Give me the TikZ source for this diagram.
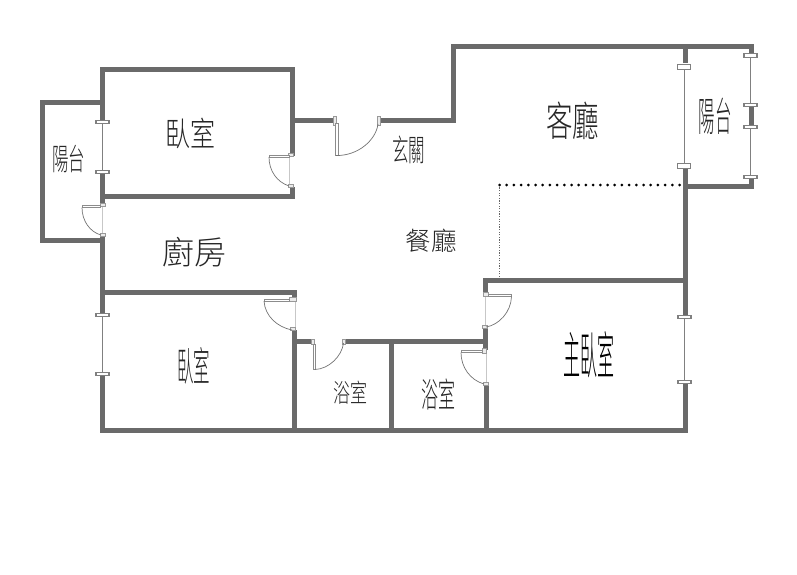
\documentclass[tikz,border=0pt]{standalone}
\usepackage{fontspec}
\setmainfont{Noto Sans CJK TC Light}
\definecolor{wallgray}{HTML}{6A6A6A}
\definecolor{thingray}{HTML}{808080}
\tikzset{
  wall/.style={draw=wallgray,line width=5pt,line cap=rect,line join=miter},
  pane/.style={draw=thingray,line width=1.2pt},
  lightpane/.style={draw=black!22,line width=1pt},
  jambbig/.style={draw=thingray,fill=white,line width=1.2pt},
  jambsmall/.style={draw=black!40,fill=black!8,line width=.8pt},
  leaf/.style={draw=black!45,fill=white,line width=.7pt},
  swing/.style={draw=black!55,line width=.7pt},
  roomline/.style={draw=black,line width=3pt,line cap=round,dash pattern=on 0pt off 7.2pt},
  roomlinefine/.style={draw=black!60,line width=1.4pt,dash pattern=on 1.3pt off 1.3pt},
  label/.style={inner sep=0pt,text=black!85}
}
\begin{document}
\begin{tikzpicture}[x=1pt,y=-1pt]
  \useasboundingbox (0,0) rectangle (797,575);
  \begin{scope}[wall]
    \draw (102,118) -- (102,70) -- (292,70) -- (292,153);
    \draw (102,176) -- (102,203);
    \draw (102,237) -- (102,312);
    \draw (102,378) -- (102,430) -- (685,430);
    \draw (100,103) -- (42,103) -- (42,240) -- (100,240);
    \draw (102,196) -- (292,196) -- (292,189);
    \draw (292,121) -- (331,121);
    \draw (382,121) -- (453,121) -- (453,47) -- (751,47) -- (751,51);
    \draw (685,47) -- (685,61);
    \draw (685,170) -- (685,314);
    \draw (685,386) -- (685,430);
    \draw (685,186) -- (751,186) -- (751,181);
    \draw (751,108) -- (751,124);
    \draw (102,292) -- (294,292) -- (294,295);
    \draw (294,332) -- (294,430);
    \draw (294,341) -- (309,341);
    \draw (347,341) -- (485,341);
    \draw (391,341) -- (391,430);
    \draw (485,290) -- (485,280) -- (685,280);
    \draw (485,331) -- (485,347);
    \draw (486,388) -- (486,430);
  \end{scope}
  % windows
  \draw[pane] (102.5,122) -- (102.5,172);
  \draw[pane] (102.5,315) -- (102.5,374);
  \draw[pane] (684.5,67) -- (684.5,166);
  \draw[pane] (684.5,317) -- (684.5,382);
  \draw[pane] (750.5,56) -- (750.5,105);
  \draw[pane] (750.5,127) -- (750.5,177);
  \foreach \px/\py in {102.5/122,102.5/172,102.5/315,102.5/374,684.5/317,684.5/382}
    \draw[jambbig] (\px-6.5,\py-1.8) rectangle (\px+6.5,\py+1.8);
  \foreach \py in {67,166}
    \draw[jambbig] (677.5,\py-2.7) rectangle (690.5,\py+2.7);
  \foreach \py in {55.5,105,127,177}
    \draw[jambbig] (744,\py-1.7) rectangle (757,\py+1.7);
  % doors
  \draw[lightpane] (289.5,156) -- (289.5,186);
  \draw[lightpane] (102,206) -- (102,235);
  \draw[lightpane] (295.5,299) -- (295.5,329);
  \draw[lightpane] (485.5,297) -- (485.5,327);
  \draw[lightpane] (486.5,352) -- (486.5,384);
  \foreach \px/\py in {291/155,291/186,103/205,103/235,293/329,485/327,486/384}
    \draw[jambsmall] (\px-2.5,\py-1.5) rectangle (\px+2.5,\py+1.5);
  \draw[jambsmall] (333,116) rectangle (336,125);
  \draw[jambsmall] (377,116) rectangle (380,125);
  \draw[jambsmall] (311,339) rectangle (314,344);
  \draw[jambsmall] (342,339) rectangle (345,344);
  \draw[jambsmall] (289,297.5) rectangle (296,301);
  \draw[jambsmall] (483,292) rectangle (488,296.5);
  \draw[jambsmall] (482,348.5) rectangle (486,353);
  \draw[leaf] (269,155) rectangle (289,157);
  \draw[leaf] (82,205.5) rectangle (100.5,207.5);
  \draw[leaf] (264,299) rectangle (289,301);
  \draw[leaf] (488,294) rectangle (511.5,296.5);
  \draw[leaf] (461,350.5) rectangle (482,352.5);
  \draw[leaf] (335.5,123) rectangle (338.5,155.5);
  \draw[leaf] (313,344) rectangle (315,369.5);
  \draw[swing] (269,157) .. controls (269,171) and (277,182) .. (289,186);
  \draw[swing] (82,207.5) .. controls (82,221) and (90,232) .. (101,235);
  \draw[swing] (264,301) .. controls (265,316) and (277,327) .. (292,330);
  \draw[swing] (336,155.5) .. controls (358,156) and (376,140) .. (378,124);
  \draw[swing] (315,369.5) .. controls (329,369) and (342,356) .. (343.5,343);
  \draw[swing] (511.5,296.5) .. controls (511,312) and (499,325) .. (486,327);
  \draw[swing] (461,352.5) .. controls (461,367) and (470,380) .. (484,384);
  % dining room edge
  \draw[roomlinefine] (499.5,277) -- (499.5,186);
  \draw[roomline] (499.5,185) -- (685,185);
  % rooms
  \node[label,font=\fontsize{25}{25}\selectfont,yscale=1.35,transform shape] (bedroomTop) at (190.5,133.5) {臥室};
  \node[label,font=\fontsize{16.5}{17}\selectfont,yscale=1.85,transform shape] (balconyLeft) at (68.5,158.5) {陽台};
  \node[label,font=\fontsize{26.5}{28}\selectfont,yscale=1.55,transform shape] (livingRoom) at (572.5,120.5) {客廳};
  \node[label,font=\fontsize{16.5}{17}\selectfont,yscale=2.45,transform shape] (balconyRight) at (715,116.5) {陽台};
  \node[label,font=\fontsize{16.5}{17}\selectfont,yscale=1.85,transform shape] (entrance) at (408.5,149.5) {玄關};
  \node[label,font=\fontsize{32}{32}\selectfont] (kitchen) at (194.5,252.5) {廚房};
  \node[label,font=\fontsize{25.5}{26}\selectfont] (diningRoom) at (431,241) {餐廳};
  \node[label,font=\fontsize{16.5}{18}\selectfont,yscale=2.45,transform shape] (bedroomLow) at (193.5,365.5) {臥室};
  \node[label,font=\fontsize{17}{17}\selectfont,yscale=1.5,transform shape] (bathLeft) at (350,392.5) {浴室};
  \node[label,font=\fontsize{17}{17}\selectfont,yscale=2,transform shape] (bathRight) at (438.5,394) {浴室};
  \node[label,font=\fontsize{17}{17}\selectfont,yscale=3,text=black,transform shape] (masterBedroom) at (588.5,355) {主臥室};
\end{tikzpicture}
\end{document}
